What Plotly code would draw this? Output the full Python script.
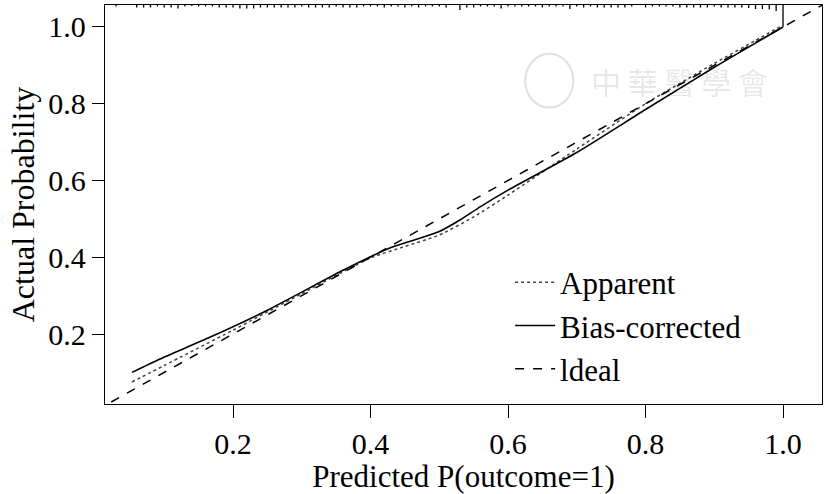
import plotly.graph_objects as go

# Calibration curve data
apparent_x = [0.053, 0.10, 0.20, 0.30, 0.40, 0.45, 0.50, 0.55, 0.60, 0.70, 0.80, 0.90, 0.96, 1.00]
apparent_y = [0.075, 0.118, 0.210, 0.305, 0.398, 0.428, 0.458, 0.505, 0.562, 0.682, 0.800, 0.905, 0.965, 1.005]

bias_x = [0.053, 0.094, 0.167, 0.25, 0.36, 0.424, 0.46, 0.50, 0.53, 0.56, 0.60, 0.70, 0.80, 0.90, 1.00]
bias_y = [0.100, 0.135, 0.192, 0.262, 0.366, 0.421, 0.443, 0.467, 0.497, 0.532, 0.575, 0.673, 0.785, 0.895, 1.000]

ideal_x = [0.0, 1.1]
ideal_y = [0.0, 1.1]

# Distribution of predicted probabilities (spikes hanging from the top)
rug_x = [0.03, 0.04, 0.05, 0.06, 0.07, 0.08, 0.09, 0.10, 0.11, 0.12, 0.13, 0.14, 0.15, 0.16,
         0.17, 0.18, 0.19, 0.20, 0.21, 0.22, 0.23, 0.24, 0.25, 0.26, 0.27, 0.28, 0.29, 0.30,
         0.31, 0.32, 0.33, 0.34, 0.35, 0.36, 0.37, 0.38, 0.39, 0.40, 0.41, 0.42, 0.43, 0.44,
         0.45, 0.46, 0.47, 0.48, 0.49, 0.50, 0.51, 0.52, 0.53, 0.54, 0.55, 0.56, 0.57, 0.58,
         0.59, 0.60, 0.61, 0.62, 0.63, 0.64, 0.65, 0.66, 0.67, 0.68, 0.69, 0.70, 0.71, 0.72,
         0.73, 0.74, 0.75, 0.76, 0.77, 0.78, 0.79, 0.80, 0.81, 0.82, 0.83, 0.84, 0.85, 0.86,
         0.87, 0.88, 0.89, 0.90, 0.91, 0.92, 0.93, 0.94, 0.95, 0.96, 0.97, 0.98, 0.99, 1.00]
rug_freq = [1.5, 0, 0, 2.5, 2.5, 2.5, 1.5, 2.5, 2.5, 3.5, 1.5, 1, 1.5, 1.5,
            1.5, 2.5, 2.5, 2.5, 3.5, 3.5, 3.5, 2.5, 2.5, 2.5, 2.5, 2.5, 2.5, 1.5,
            2.5, 2.5, 2.5, 2.5, 1.5, 2.5, 2.5, 2.5, 1.5, 1.5, 1.5, 2.5, 1.5, 1.5,
            2.5, 1.5, 2.5, 1.5, 1.5, 1.5, 2.5, 0, 5, 2.5, 2.5, 1.5, 1.5, 1.5,
            3.5, 1.5, 1.5, 1.5, 1.5, 1.5, 2.5, 1.5, 1.5, 1.5, 4, 1.5, 2.5, 1.5,
            2.5, 2.5, 2.5, 2.5, 2.5, 1.5, 0, 2.5, 1.5, 1.5, 1.5, 1.5, 2.5, 2.5,
            2.5, 2.5, 2.5, 1.5, 2.5, 2.5, 2.5, 2.5, 3, 4, 4, 4.5, 6, 22]

x_range = [0.0138, 1.0567]
y_range = [0.0176, 1.0573]
tick_vals = [0.2, 0.4, 0.6, 0.8, 1.0]
tick_text = ["0.2", "0.4", "0.6", "0.8", "1.0"]

serif = "Liberation Serif, Times New Roman, serif"

fig = go.Figure()

# rug spikes: max spike spans ~0.057 of the y axis
scale = 0.057 / max(rug_freq)
rx, ry = [], []
for xv, fv in zip(rug_x, rug_freq):
    if fv > 0:
        rx += [xv, xv, None]
        ry += [y_range[1], y_range[1] - fv * scale, None]
fig.add_trace(go.Scatter(x=rx, y=ry, mode='lines', line=dict(color='black', width=1.3),
                         showlegend=False, hoverinfo='skip'))

fig.add_trace(go.Scatter(x=apparent_x, y=apparent_y, mode='lines', name='Apparent',
                         line=dict(color='#444444', width=1.5, dash='dot', shape='spline', smoothing=0.6)))
fig.add_trace(go.Scatter(x=bias_x, y=bias_y, mode='lines', name='Bias-corrected',
                         line=dict(color='black', width=1.6, shape='spline', smoothing=0.6)))
fig.add_trace(go.Scatter(x=ideal_x, y=ideal_y, mode='lines', name='ldeal',
                         line=dict(color='black', width=1.5, dash='dash')))

# faint watermark (logo + text)
fig.add_shape(type='circle', xref='x', yref='y', x0=0.625, x1=0.695, y0=0.79, y1=0.93,
              line=dict(color='rgba(0,0,0,0.12)', width=2))
fig.add_annotation(x=0.85, y=0.86, xref='x', yref='y', text='中 華 醫 學 會', showarrow=False,
                   font=dict(family='Noto Sans CJK TC', size=30, color='rgba(0,0,0,0.10)'))

fig.update_layout(
    width=827, height=494,
    margin=dict(l=105, r=5, t=5, b=90),
    plot_bgcolor='white', paper_bgcolor='white',
    font=dict(family=serif, size=30, color='black'),
    legend=dict(x=0.565, y=0.372, xanchor='left', yanchor='top', bgcolor='rgba(0,0,0,0)',
                font=dict(family=serif, size=31), tracegroupgap=0, itemwidth=40),
    xaxis=dict(range=x_range, tickvals=tick_vals, ticktext=tick_text, showgrid=False,
               zeroline=False, showline=True, mirror=True, linecolor='black', linewidth=1.3,
               ticks='outside', ticklen=13, tickwidth=1.3, tickcolor='black', automargin=False,
               tickfont=dict(size=30),
               title=dict(text='Predicted P(outcome=1)', standoff=2, font=dict(size=31))),
    yaxis=dict(range=y_range, tickvals=tick_vals, ticktext=tick_text, showgrid=False,
               zeroline=False, showline=True, mirror=True, linecolor='black', linewidth=1.3,
               ticks='outside', ticklen=12, tickwidth=1.3, tickcolor='black', automargin=False,
               tickfont=dict(size=30),
               title=dict(text='Actual Probability', standoff=4, font=dict(size=32))),
)

# drop the page's default body margin so the figure sits at the window's corner
fig.write_html("out.html", config={'displayModeBar': False},
               post_script="document.body.style.margin='0';")
